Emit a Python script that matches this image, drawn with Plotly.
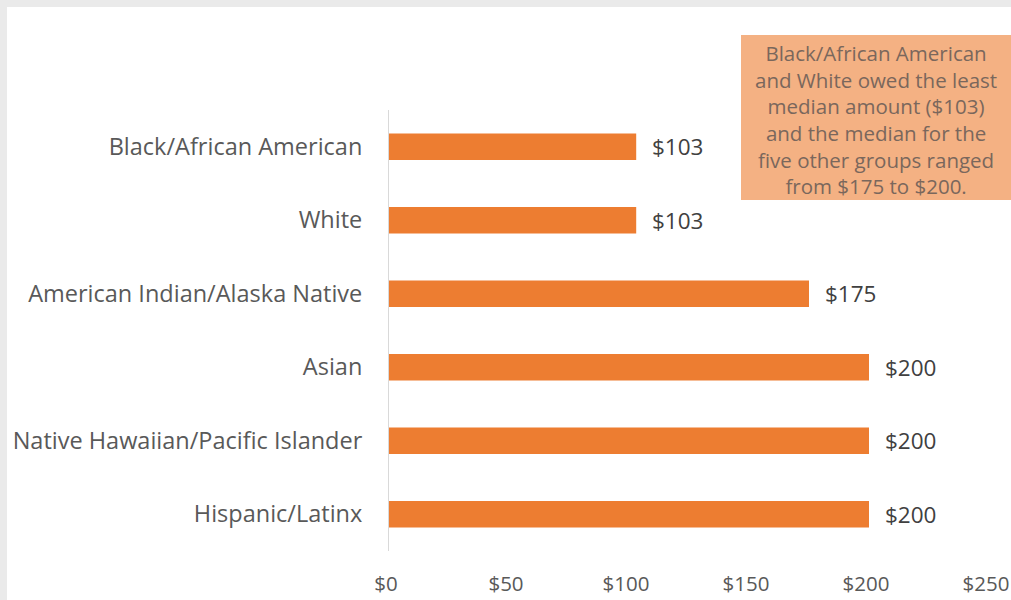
import plotly.graph_objects as go

categories = ["Black/African American", "White", "American Indian/Alaska Native",
              "Asian", "Native Hawaiian/Pacific Islander", "Hispanic/Latinx"]
values = [103, 103, 175, 200, 200, 200]
tick_vals = [0, 50, 100, 150, 200, 250]
tick_text = ["$0", "$50", "$100", "$150", "$200", "$250"]
note_lines = ["Black/African American", "and White owed the least",
              "median amount ($103)", "and the median for the",
              "five other groups ranged", "from $175 to $200."]

FONT = "Open Sans"
L, R, T, B = 389, 22, 110, 49
W, H = 1011, 600
PW, PH = W - L - R, H - T - B

def px_x(p):
    return (p - L) / PW

def px_y(p):
    return (H - B - p) / PH

fig = go.Figure(go.Bar(
    x=values, y=categories, orientation="h",
    marker=dict(color="#ED7D31", line=dict(width=0)),
    width=0.36, hoverinfo="skip",
))

annotations = [
    dict(x=v, y=c, xref="x", yref="y", text=f"${v}", showarrow=False,
         xanchor="left", xshift=14, font=dict(family=FONT, size=22.5, color="#404040"))
    for c, v in zip(categories, values)
]
annotations.append(dict(
    x=px_x(876), y=px_y(119), xref="paper", yref="paper",
    text="<br>".join(note_lines), showarrow=False, align="center",
    xanchor="center", yanchor="middle",
    font=dict(family=FONT, size=20.5, color="#7A675C"),
))

shapes = [
    dict(type="rect", xref="paper", yref="paper", x0=px_x(0), x1=px_x(W), y0=px_y(7), y1=px_y(0),
         fillcolor="#EAEAEA", line=dict(width=0), layer="below"),
    dict(type="rect", xref="paper", yref="paper", x0=px_x(0), x1=px_x(7), y0=px_y(H), y1=px_y(0),
         fillcolor="#EAEAEA", line=dict(width=0), layer="below"),
    dict(type="rect", xref="paper", yref="paper", x0=px_x(741), x1=px_x(W), y0=px_y(200), y1=px_y(35),
         fillcolor="#F4B183", line=dict(width=0), layer="below"),
]

fig.update_layout(
    width=W, height=H,
    margin=dict(l=L, r=R, t=T, b=B, pad=0, autoexpand=False),
    paper_bgcolor="white", plot_bgcolor="white",
    showlegend=False,
    annotations=annotations, shapes=shapes,
    xaxis=dict(range=[0, 250], tickmode="array", tickvals=tick_vals, ticktext=tick_text,
               showgrid=False, zeroline=False, showline=False, ticks="",
               automargin=False, ticklabelstandoff=18, ticklabelshift=-3,
               ticklabeloverflow="allow",
               tickfont=dict(family=FONT, size=20.5, color="#595959"), fixedrange=True),
    yaxis=dict(autorange="reversed", showgrid=False, zeroline=False,
               showline=True, linecolor="#D9D9D9", linewidth=1, ticks="",
               automargin=False, ticklabelstandoff=21,
               tickfont=dict(family=FONT, size=23.5, color="#595959"), fixedrange=True),
)

fig.write_html("out.html", config={"displayModeBar": False})
